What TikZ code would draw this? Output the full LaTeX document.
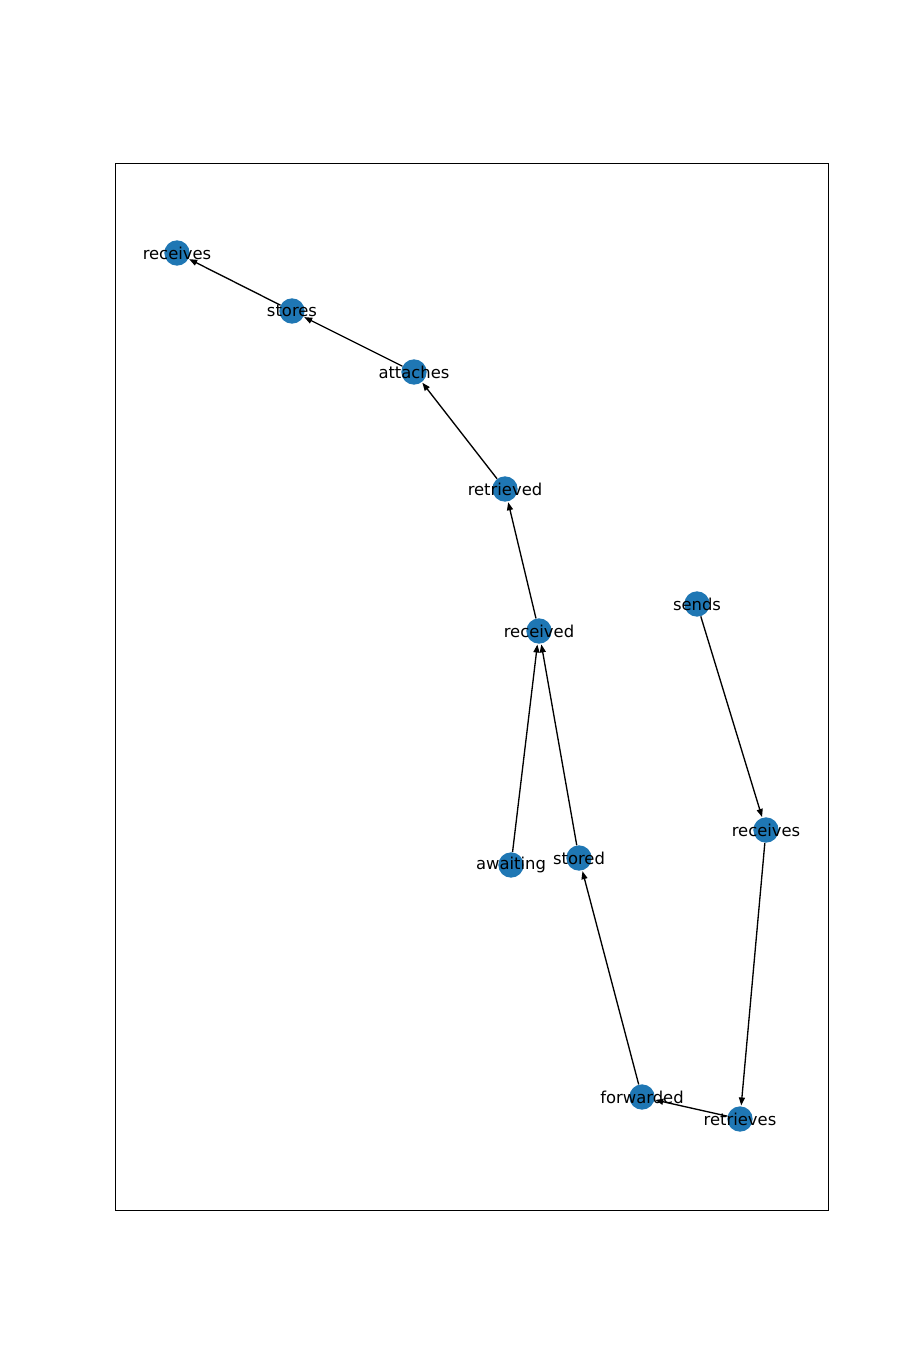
\documentclass[tikz,border=0pt]{standalone}
\usepackage{fontspec}
\setmainfont{DejaVu Sans}
\usetikzlibrary{arrows.meta}
\definecolor{nblue}{HTML}{1F77B4}
\tikzset{
  nd/.style={circle, fill=nblue, draw=none, minimum size=19pt, inner sep=0pt},
  lbl/.style={font=\fontsize{12.3pt}{14pt}\selectfont, inner sep=0pt},
  edge/.style={line width=1pt, -{Triangle[length=6pt,width=4.5pt]}, shorten >=0.5pt},
}
\begin{document}
\begin{tikzpicture}[x=0.75pt, y=-0.75pt]
\useasboundingbox (0,0) rectangle (919,1360);
\draw[line width=0.6pt] (115,163) rectangle (828,1210);
\node[nd] (rc1) at (177,253) {};
\node[nd] (st1) at (292,311) {};
\node[nd] (att) at (414,372) {};
\node[nd] (rtd) at (505,489) {};
\node[nd] (rcv) at (539,631) {};
\node[nd] (snd) at (697,604) {};
\node[nd] (rc2) at (766,830) {};
\node[nd] (awt) at (511,865) {};
\node[nd] (st2) at (579,858) {};
\node[nd] (fwd) at (642,1097) {};
\node[nd] (rts) at (740,1119) {};
\draw[edge] (st1) -- (rc1);
\draw[edge] (att) -- (st1);
\draw[edge] (rtd) -- (att);
\draw[edge] (rcv) -- (rtd);
\draw[edge] (awt) -- (rcv);
\draw[edge] (st2) -- (rcv);
\draw[edge] (fwd) -- (st2);
\draw[edge] (rts) -- (fwd);
\draw[edge] (rc2) -- (rts);
\draw[edge] (snd) -- (rc2);
\node[lbl] at (rc1) {receives};
\node[lbl] at (st1) {stores};
\node[lbl] at (att) {attaches};
\node[lbl] at (rtd) {retrieved};
\node[lbl] at (rcv) {received};
\node[lbl] at (snd) {sends};
\node[lbl] at (rc2) {receives};
\node[lbl] at (awt) {awaiting};
\node[lbl] at (st2) {stored};
\node[lbl] at (fwd) {forwarded};
\node[lbl] at (rts) {retrieves};
\end{tikzpicture}
\end{document}
